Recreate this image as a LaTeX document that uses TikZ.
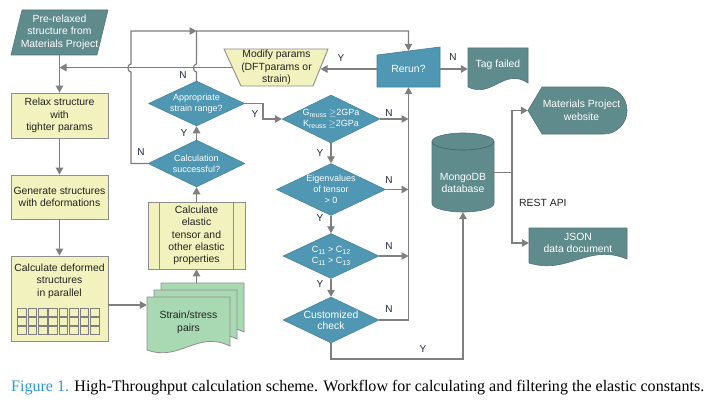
\documentclass[tikz,border=0pt]{standalone}
\usepackage{fontspec}
\usepackage{graphicx}
\setmainfont{Liberation Serif}
\setsansfont{Liberation Sans}
\usetikzlibrary{arrows.meta,calc,shapes.geometric}
\definecolor{ylw}{HTML}{F2F2BE}
\definecolor{blu}{HTML}{4F97B2}
\definecolor{teal}{HTML}{5F8B8C}
\definecolor{grn}{HTML}{A9D9B3}
\definecolor{lgray}{HTML}{7F7F7F}
\definecolor{bgray}{HTML}{8E8E8E}
\definecolor{lblc}{HTML}{1C2541}
\definecolor{capblue}{HTML}{2B9BD3}
\definecolor{txtc}{HTML}{222222}
\newcommand{\mydocshape}[5]{%
  \filldraw[#1] (#2,#3) -- (#4,#3) -- (#4,{#5-2}) .. controls ({#2+0.6*(#4-#2)},{#5-18}) and ({#2+0.4*(#4-#2)},{#5+14}) .. (#2,{#5+2}) -- cycle;}
\newcommand{\mysub}[1]{\raisebox{-2.2pt}{\fontsize{7}{8}\selectfont #1}}
\begin{document}
\begin{tikzpicture}[x=1pt,y=-1pt,
  line/.style={draw=lgray, line width=1.2pt},
  arr/.style={line, -{Triangle[length=7pt,width=7.5pt]}},
  txt/.style={font=\sffamily\fontsize{10.4}{12.6}\selectfont, align=center, inner sep=0pt, text=txtc},
  wtxt/.style={txt, text=white},
  dtxt/.style={font=\sffamily\fontsize{9}{11}\selectfont, align=center, text=white},
  lbl/.style={font=\sffamily\fontsize{10}{12}\selectfont, text=lblc, inner sep=0pt},
  box/.style={draw=bgray, fill=ylw, line width=0.9pt, txt},
  ylwshape/.style={draw=bgray, fill=ylw, line width=0.9pt},
  tealshape/.style={draw=teal!85!black, fill=teal, line width=0.6pt},
  blushape/.style={draw=blu!85!black, fill=blu, line width=0.6pt},
  grnshape/.style={draw=bgray, fill=grn, line width=0.8pt},
  dia/.style={shape=diamond, fill=blu, draw=blu!85!black, line width=0.5pt, inner sep=0pt, aspect=2.1, dtxt},
  sq/.style={draw=lgray, line width=0.7pt},
  ghost/.style={inner sep=0pt}
]
\useasboundingbox (0,0) rectangle (712,404);
\fill[white] (0,0) rectangle (712,404);

% ---------- shapes drawn as paths ----------
\filldraw[tealshape] (22,10) -- (108,10) -- (97,55) -- (11,55) -- cycle;
\filldraw[ylwshape] (224,49) -- (328,49) -- (313,86) -- (241,86) -- cycle;
\filldraw[blushape] (377,55) -- (440,47) -- (440,87) -- (377,87) -- cycle;
\mydocshape{tealshape}{468}{48}{528}{85}
\mydocshape{tealshape}{529}{228}{627}{261}
\filldraw[tealshape] (528,110.5) -- (542,87) -- (604,87) .. controls (616.7,87) and (627,97.5) .. (627,110.5) .. controls (627,123.5) and (616.7,134) .. (604,134) -- (542,134) -- cycle;
% cylinder
\filldraw[tealshape] (432,141.5) .. controls (432,136.8) and (445.9,133) .. (463,133) .. controls (480.1,133) and (494,136.8) .. (494,141.5) -- (494,203.5) .. controls (494,208.2) and (480.1,212) .. (463,212) .. controls (445.9,212) and (432,208.2) .. (432,203.5) -- cycle;
\draw[teal!70!black, line width=0.6pt] (432,141.5) .. controls (432,146.2) and (445.9,150) .. (463,150) .. controls (480.1,150) and (494,146.2) .. (494,141.5);
% stacked strain/stress documents
\mydocshape{grnshape}{161}{283}{244}{334}
\mydocshape{grnshape}{154}{290}{237}{341}
\mydocshape{grnshape}{147}{297}{230}{348}

% ---------- nodes ----------
\node[wtxt, minimum width=86pt, minimum height=45pt] (pre) at (59.5,32) {Pre-relaxed\\structure from\\Materials Project};
\node[box, minimum width=97pt, minimum height=45pt] (relax) at (59.5,115.5) {Relax structure\\with\\tighter params};
\node[box, minimum width=97pt, minimum height=44pt] (gen) at (59.5,197) {Generate structures\\with deformations};
\node[box, minimum width=97pt, minimum height=85pt] (calcdef) at (59.5,298.5) {};
\node[txt] (calcdeftxt) at (59.5,281) {Calculate deformed\\structures\\in parallel};
\foreach \i in {0,...,7} \foreach \j in {0,1,2}
  \draw[sq] ({17.5+\i*10.4},{308.5+\j*9}) rectangle +(8.6,7.6);

\node[txt, minimum width=83pt, minimum height=51pt] (pairs) at (188.5,322.5) {Strain/stress\\pairs};
\node[ghost, minimum width=83pt, minimum height=51pt] (pairsback) at (202.5,308.5) {};

\node[box, minimum width=97pt, minimum height=67pt, font=\sffamily\fontsize{10.4}{12.2}\selectfont] (calcel) at (196.5,235.5) {Calculate\\elastic\\tensor and\\other elastic\\properties};
\draw[bgray, line width=0.9pt] ($(calcel.north west)+(12,0)$) -- ($(calcel.south west)+(12,0)$);
\draw[bgray, line width=0.9pt] ($(calcel.north east)+(-12,0)$) -- ($(calcel.south east)+(-12,0)$);

\node[dia, minimum width=97pt, minimum height=47pt] (succ) at (196.5,163.5) {Calculation\\successful?};
\node[dia, minimum width=96pt, minimum height=45pt] (strain) at (196.5,103.5) {Appropriate\\strain range?};

\node[txt, minimum width=87.6pt, minimum height=37pt] (modify) at (276.5,67.5) {Modify params\\(DFTparams or\\strain)};
\node[wtxt, minimum width=63pt, minimum height=36pt] (rerun) at (408.5,69) {Rerun?};
\node[wtxt, minimum width=60pt, minimum height=34pt] (tag) at (498,65) {Tag failed};

\node[dia, minimum width=97pt, minimum height=48pt] (G) at (331,119) {G\mysub{reuss} $\geq$2GPa\\K\mysub{reuss} $\geq$2GPa};
\node[dia, minimum width=96pt, minimum height=46pt] (E) at (331,189.5) {Eigenvalues\\of tensor\\> 0};
\node[dia, minimum width=96pt, minimum height=45pt] (C) at (331,256) {C\mysub{11} > C\mysub{12}\\C\mysub{11} > C\mysub{13}};
\node[dia, minimum width=96pt, minimum height=46pt] (cust) at (331,320) {\fontsize{10.4}{12.4}\selectfont Customized\\\fontsize{10.4}{12.4}\selectfont check};

\node[ghost, minimum width=62pt, minimum height=79pt] (mongo) at (463,172.5) {};
\node[wtxt] (mongotxt) at (463,183) {MongoDB\\database};
\node[wtxt, minimum width=99pt, minimum height=47pt] (mpweb) at (577.5,110.5) {\hspace*{8pt}Materials Project\\\hspace*{8pt}website};
\node[wtxt, minimum width=98pt, minimum height=30pt] (json) at (578,243) {JSON\\data document};
\node[txt, anchor=west] (rest) at (519,203) {REST API};

\coordinate (topj) at (196.5,31);

% ---------- connectors ----------
\draw[arr] (pre.south) -- (relax.north);
\draw[arr] (relax.south) -- (gen.north);
\draw[arr] (gen.south) -- (calcdef.north);
\coordinate (c1) at ([yshift=-6.5pt]calcdef.east);
\draw[arr] (c1) -- (c1 -| pairs.west);
\draw[arr] (pairsback.north -| calcel.south) -- (calcel.south);
\draw[arr] (calcel.north) -- (succ.south);
\draw[arr] (succ.north) -- (strain.south);
\draw[arr] (succ.west) -- (131,163.5) -- (131,72) .. controls (127,72) and (127,64) .. (131,64) -- (131,31) -- (topj);
\draw[arr] (strain.north) -- (196.5,72) .. controls (192.5,72) and (192.5,64) .. (196.5,64) -- (topj) -- (topj -| rerun.north) -- (rerun.north);
\draw[arr] (rerun.west) -- (rerun.west -| modify.east);
\draw[arr] (modify.west) -- (modify.west -| relax.north);
\draw[arr] (rerun.east) -- (rerun.east -| tag.west);
\draw[arr] (strain.east) -- (263,103.5) -- (263,119) -- (G.west);
\draw[arr] (G.south) -- (E.north);
\draw[arr] (E.south) -- (C.north);
\draw[arr] (C.south) -- (cust.north);
\draw[arr] (G.east) -- (G.east -| rerun.south);
\draw[arr] (E.east) -- (E.east -| rerun.south);
\draw[arr] (C.east) -- (C.east -| rerun.south);
\draw[arr] (cust.east) -- (cust.east -| rerun.south) -- (rerun.south);
\draw[arr] (cust.south) -- (331,359) -- (463,359) -- (mongo.south);
\draw[line] (mongo.east) -- (512,172.5);
\draw[arr] (512,172.5) -- (512,110.5) -- (mpweb.west);
\draw[arr] (512,172.5) -- (512,243) -- (json.west);

% ---------- labels ----------
\node[lbl] (l1) at (141,152) {N};
\node[lbl] (l2) at (183,75) {N};
\node[lbl] (l3) at (184,133) {Y};
\node[lbl] (l4) at (255,114) {Y};
\node[lbl] (l5) at (341,58) {Y};
\node[lbl] (l6) at (453,57) {N};
\node[lbl] (l7) at (389,113) {N};
\node[lbl] (l8) at (389,180) {N};
\node[lbl] (l9) at (389,246) {N};
\node[lbl] (l10) at (389,309) {N};
\node[lbl] (l11) at (320,153) {Y};
\node[lbl] (l12) at (320,218) {Y};
\node[lbl] (l13) at (320,284) {Y};
\node[lbl] (l14) at (423,349) {Y};

% ---------- caption ----------
\node[anchor=west, inner sep=0pt] (cap) at (11,388) {\resizebox{693pt}{!}{\fontsize{14}{16}\selectfont\textcolor{capblue}{Figure 1.} High-Throughput calculation scheme. Workflow for calculating and filtering the elastic constants.}};
\end{tikzpicture}
\end{document}
